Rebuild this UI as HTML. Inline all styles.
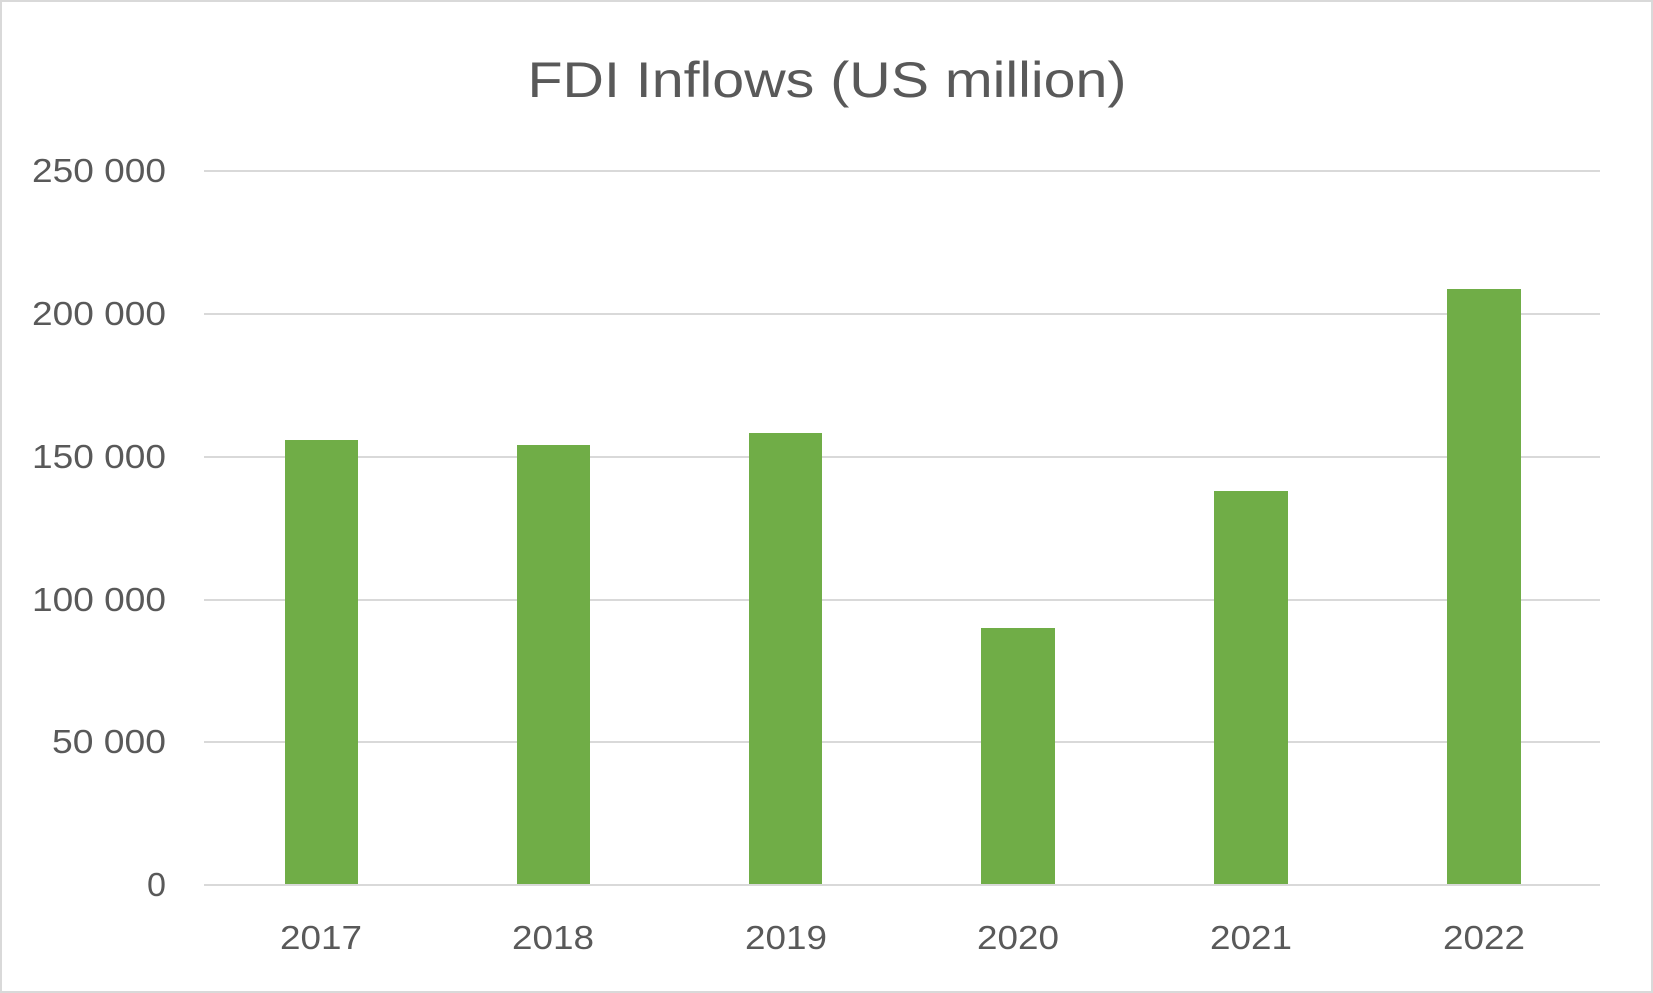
<!DOCTYPE html>
<html><head><meta charset="utf-8"><style>
html,body{margin:0;padding:0;background:#fff;}
svg{display:block;}
text{font-family:"Liberation Sans",sans-serif;fill:#595959;}
</style></head><body>
<svg width="1653" height="993" viewBox="0 0 1653 993" xmlns="http://www.w3.org/2000/svg">
<rect x="1" y="1" width="1651" height="991" fill="#fff" stroke="#d9d9d9" stroke-width="2"/>
<text x="827" y="97" font-size="50" text-anchor="middle" textLength="599" lengthAdjust="spacingAndGlyphs">FDI Inflows (US million)</text>
<g stroke="#d9d9d9" stroke-width="2">
<line x1="204" x2="1600" y1="171" y2="171"/>
<line x1="204" x2="1600" y1="314" y2="314"/>
<line x1="204" x2="1600" y1="457" y2="457"/>
<line x1="204" x2="1600" y1="600" y2="600"/>
<line x1="204" x2="1600" y1="742" y2="742"/>
<line x1="204" x2="1600" y1="885" y2="885"/>
</g>
<g font-size="33" text-anchor="end" lengthAdjust="spacingAndGlyphs">
<text x="166" y="182" textLength="134" lengthAdjust="spacingAndGlyphs">250 000</text>
<text x="166" y="325" textLength="134" lengthAdjust="spacingAndGlyphs">200 000</text>
<text x="166" y="468" textLength="134" lengthAdjust="spacingAndGlyphs">150 000</text>
<text x="166" y="611" textLength="134" lengthAdjust="spacingAndGlyphs">100 000</text>
<text x="166" y="753" textLength="114" lengthAdjust="spacingAndGlyphs">50 000</text>
<text x="166" y="896" textLength="19" lengthAdjust="spacingAndGlyphs">0</text>
</g>
<g fill="#70ad47">
<rect x="285" y="440" width="73" height="444"/>
<rect x="517" y="445" width="73" height="439"/>
<rect x="749" y="433" width="73" height="451"/>
<rect x="981" y="628" width="74" height="256"/>
<rect x="1214" y="491" width="74" height="393"/>
<rect x="1447" y="289" width="74" height="595"/>
</g>
<g font-size="33" text-anchor="middle">
<text x="321" y="949" textLength="82" lengthAdjust="spacingAndGlyphs">2017</text>
<text x="553" y="949" textLength="82" lengthAdjust="spacingAndGlyphs">2018</text>
<text x="786" y="949" textLength="82" lengthAdjust="spacingAndGlyphs">2019</text>
<text x="1018" y="949" textLength="82" lengthAdjust="spacingAndGlyphs">2020</text>
<text x="1251" y="949" textLength="82" lengthAdjust="spacingAndGlyphs">2021</text>
<text x="1484" y="949" textLength="82" lengthAdjust="spacingAndGlyphs">2022</text>
</g>
</svg>
</body></html>
